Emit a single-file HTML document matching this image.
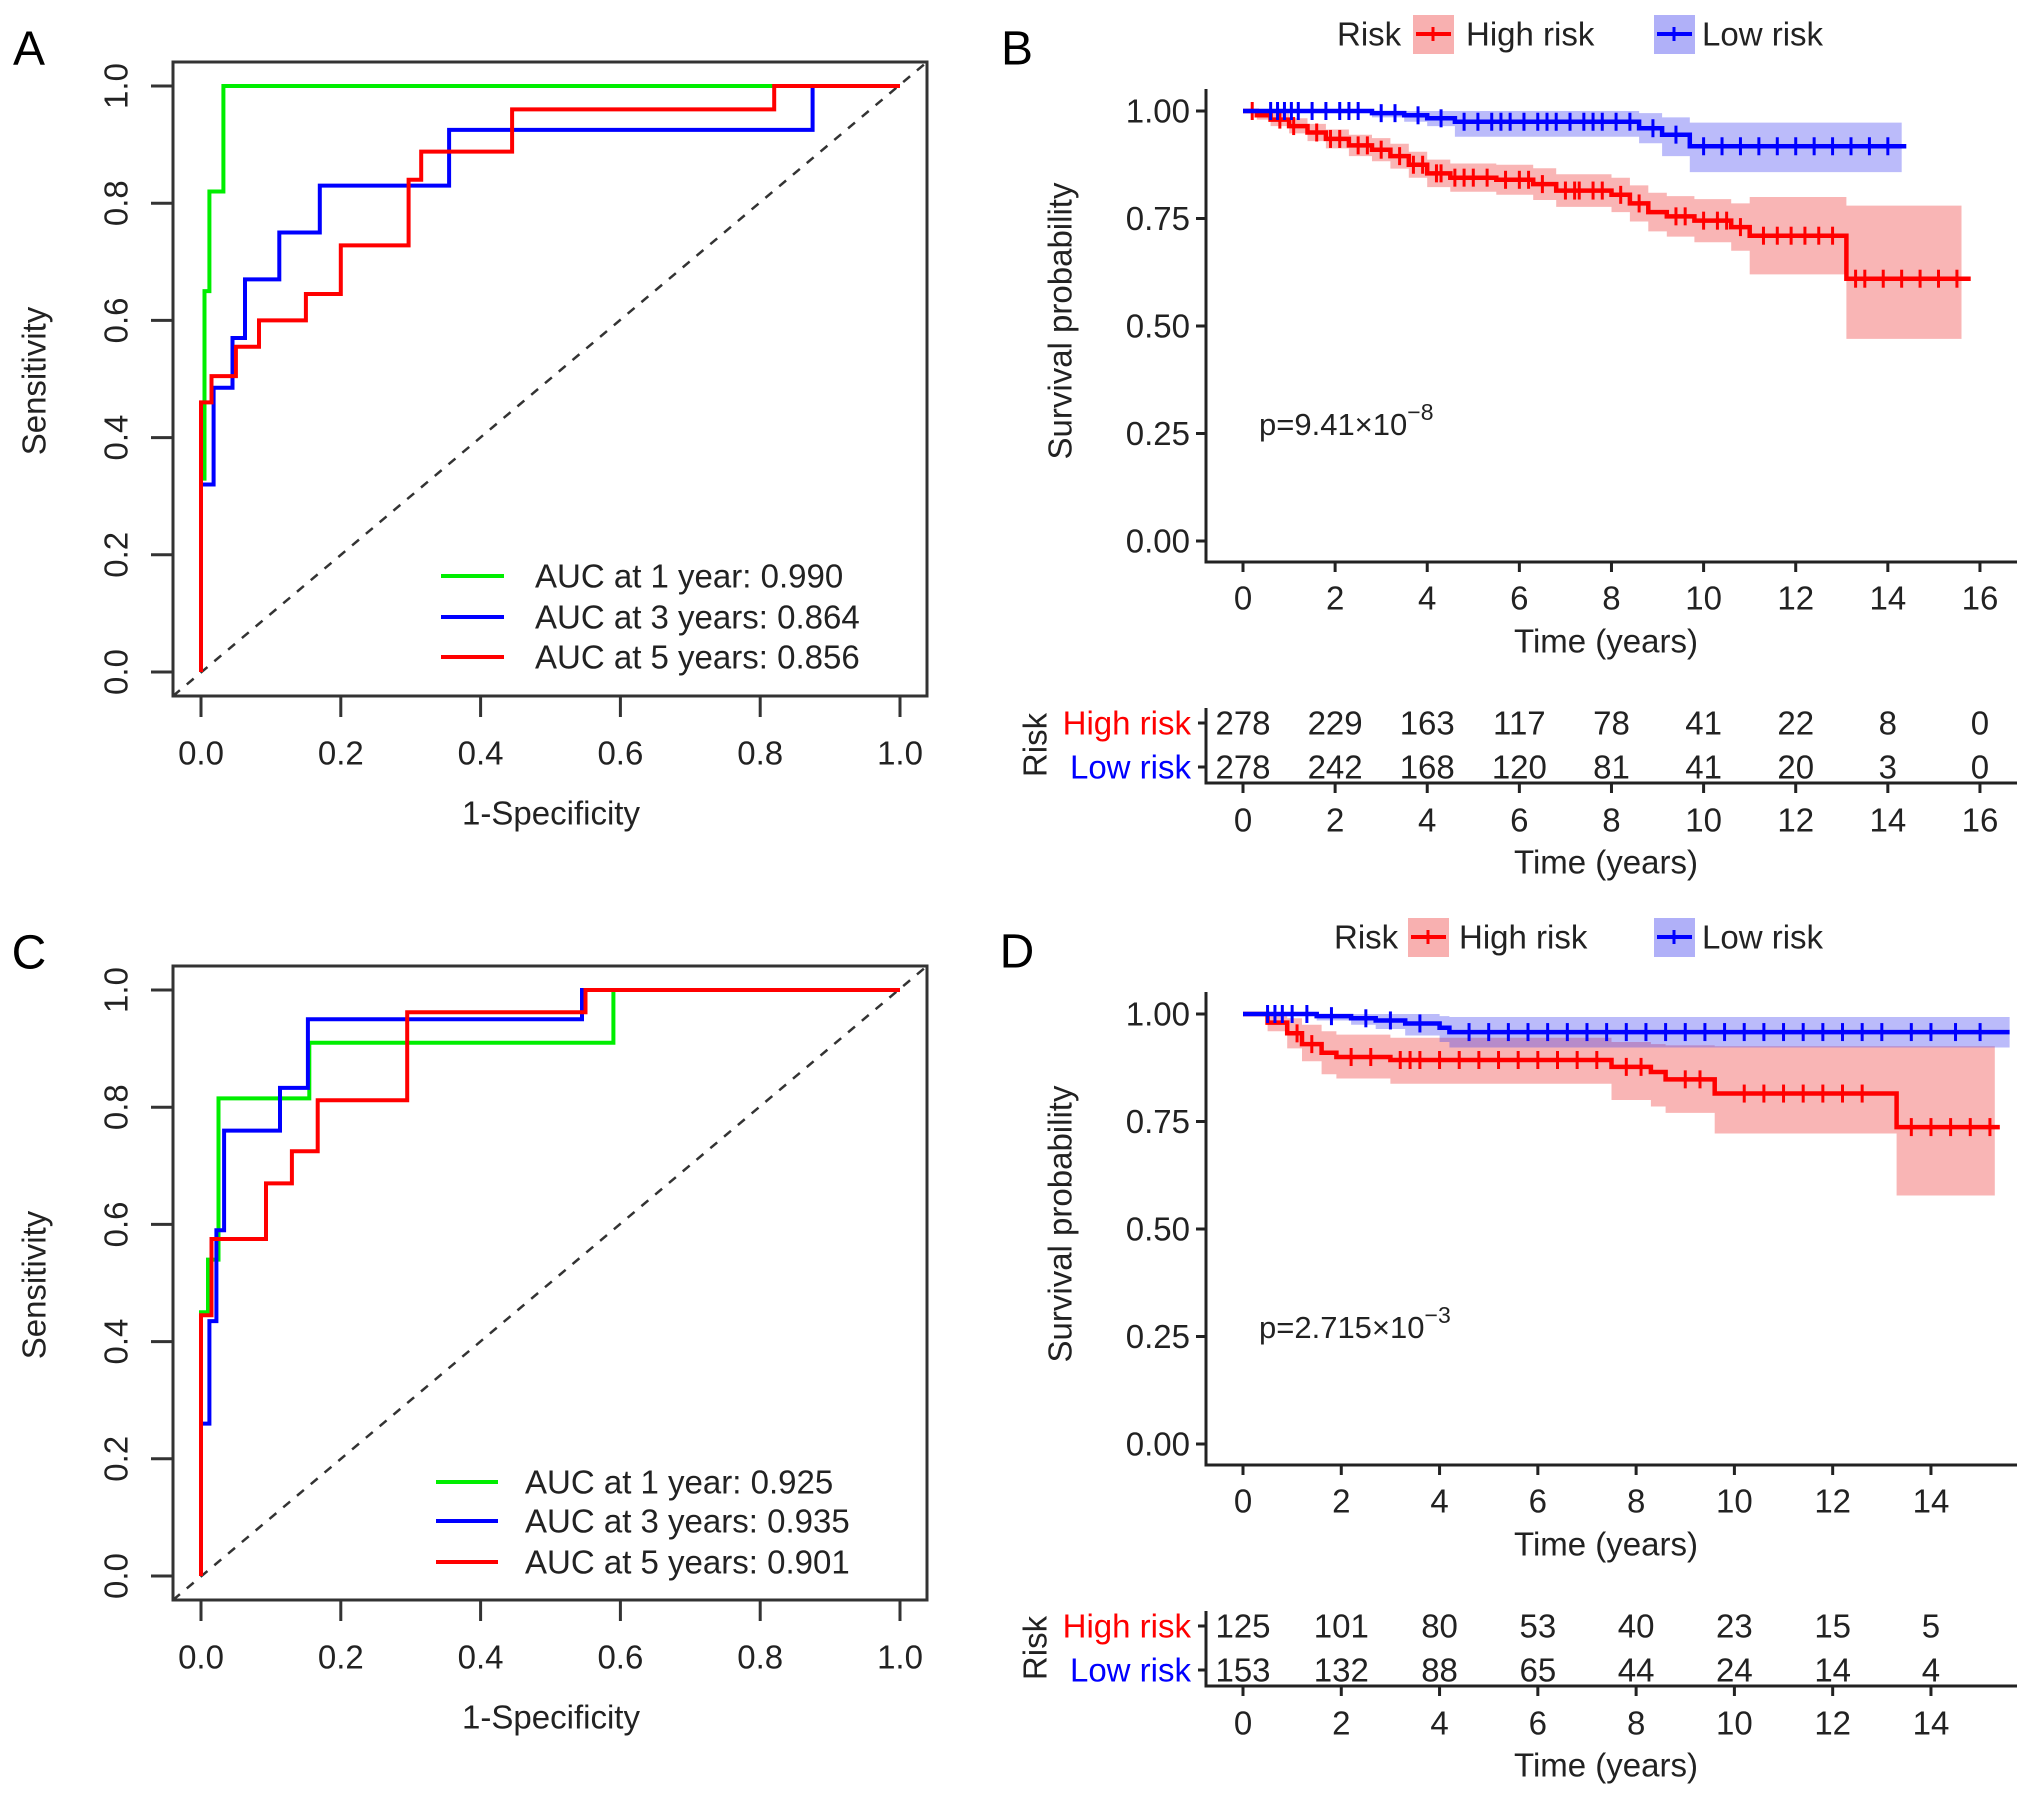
<!DOCTYPE html>
<html><head><meta charset="utf-8"><style>
html,body{margin:0;padding:0;background:#fff}
svg{display:block;font-family:"Liberation Sans",sans-serif}
</style></head><body>
<svg id="fig" width="2032" height="1796" viewBox="0 0 2032 1796" xmlns="http://www.w3.org/2000/svg"></svg>
<script>
// ---------- ROC data ----------
const rocA_green_x=[0,0,0.005,0.005,0.012,0.012,0.032,0.032,1];
const rocA_green_y=[0,0.33,0.33,0.65,0.65,0.82,0.82,1,1];
const rocA_blue_x=[0,0,0.018,0.018,0.045,0.045,0.063,0.063,0.112,0.112,0.17,0.17,0.355,0.355,0.875,0.875,1];
const rocA_blue_y=[0,0.32,0.32,0.485,0.485,0.57,0.57,0.67,0.67,0.75,0.75,0.83,0.83,0.925,0.925,1,1];
const rocA_red_x=[0,0,0.015,0.015,0.05,0.05,0.083,0.083,0.15,0.15,0.2,0.2,0.297,0.297,0.315,0.315,0.445,0.445,0.82,0.82,1];
const rocA_red_y=[0,0.46,0.46,0.505,0.505,0.555,0.555,0.6,0.6,0.645,0.645,0.728,0.728,0.84,0.84,0.888,0.888,0.96,0.96,1,1];
const rocC_green_x=[0,0,0.01,0.01,0.025,0.025,0.155,0.155,0.59,0.59,1];
const rocC_green_y=[0,0.45,0.45,0.54,0.54,0.815,0.815,0.91,0.91,1,1];
const rocC_blue_x=[0,0,0.012,0.012,0.022,0.022,0.033,0.033,0.113,0.113,0.153,0.153,0.545,0.545,1];
const rocC_blue_y=[0,0.26,0.26,0.435,0.435,0.59,0.59,0.76,0.76,0.833,0.833,0.95,0.95,1,1];
const rocC_red_x=[0,0,0.015,0.015,0.093,0.093,0.13,0.13,0.167,0.167,0.295,0.295,0.55,0.55,1];
const rocC_red_y=[0,0.445,0.445,0.575,0.575,0.67,0.67,0.725,0.725,0.812,0.812,0.962,0.962,1,1];
const rocTicks=[0,0.2,0.4,0.6,0.8,1.0];
const rocLegendA=["AUC at 1 year: 0.990","AUC at 3 years: 0.864","AUC at 5 years: 0.856"];
const rocLegendC=["AUC at 1 year: 0.925","AUC at 3 years: 0.935","AUC at 5 years: 0.901"];

// ---------- KM data ----------
const kmB_high_t=[0,0.3,0.6,1.0,1.4,1.8,2.3,2.8,3.2,3.6,4.0,4.5,5.5,6.3,6.8,8.0,8.4,8.8,9.2,9.8,10.6,11.0,13.1];
const kmB_high_s=[1,0.99,0.98,0.965,0.95,0.935,0.92,0.91,0.895,0.875,0.855,0.845,0.84,0.83,0.815,0.805,0.785,0.765,0.755,0.745,0.73,0.71,0.61];
const kmB_high_lo=[1,0.98,0.965,0.948,0.93,0.913,0.895,0.883,0.866,0.845,0.823,0.812,0.805,0.793,0.777,0.765,0.743,0.72,0.708,0.695,0.675,0.62,0.47];
const kmB_high_hi=[1,1,0.995,0.983,0.97,0.957,0.945,0.937,0.924,0.905,0.887,0.878,0.875,0.867,0.853,0.845,0.827,0.81,0.802,0.795,0.785,0.8,0.78];
const kmB_high_end=15.8;
const kmB_high_cens=[0.2,0.8,1.1,1.6,1.9,2.1,2.5,2.7,3.0,3.4,3.7,3.9,4.2,4.3,4.6,4.8,5.0,5.3,5.7,6.0,6.2,6.5,7.0,7.2,7.3,7.6,7.8,8.2,8.6,9.4,9.6,10.0,10.3,10.5,10.8,11.3,11.6,11.9,12.2,12.5,12.8,13.3,13.5,13.9,14.3,14.7,15.1,15.5];
const kmB_low_t=[0,2.8,3.5,4.0,4.6,8.6,9.1,9.7];
const kmB_low_s=[1,0.995,0.99,0.983,0.975,0.96,0.945,0.918];
const kmB_low_lo=[1,0.985,0.975,0.965,0.94,0.925,0.895,0.858];
const kmB_low_hi=[1,1,1,1,1,0.995,0.985,0.973];
const kmB_low_end=14.4;
const kmB_low_cens=[0.6,0.75,0.9,1.05,1.2,1.5,1.8,2.1,2.3,2.5,3.0,3.3,3.8,4.3,4.8,5.1,5.4,5.6,5.8,6.1,6.4,6.6,6.8,7.1,7.4,7.6,7.8,8.1,8.4,8.9,9.4,10.0,10.4,10.8,11.2,11.6,12.0,12.4,12.8,13.2,13.6,14.0];
const kmD_high_t=[0,0.5,0.9,1.2,1.6,1.9,3.0,7.5,8.3,8.6,9.6,13.3];
const kmD_high_s=[1,0.98,0.955,0.93,0.91,0.9,0.893,0.877,0.865,0.848,0.815,0.737];
const kmD_high_lo=[1,0.96,0.92,0.89,0.86,0.85,0.838,0.8,0.785,0.77,0.722,0.578];
const kmD_high_hi=[1,1,0.99,0.975,0.96,0.952,0.945,0.935,0.93,0.927,0.925,0.925];
const kmD_high_end=15.4;
const kmD_high_cens=[1.1,1.4,2.2,2.6,3.2,3.4,3.6,4.0,4.4,4.8,5.2,5.6,6.0,6.4,6.8,7.2,7.8,8.1,9.0,9.3,10.2,10.6,11.0,11.4,11.8,12.2,12.6,13.6,14.0,14.4,14.8,15.2];
const kmD_low_t=[0,1.5,2.2,2.7,3.3,4.0,4.2];
const kmD_low_s=[1,0.995,0.99,0.985,0.978,0.968,0.958];
const kmD_low_lo=[1,0.985,0.975,0.965,0.95,0.935,0.922];
const kmD_low_hi=[1,1,1,1,1,0.995,0.993];
const kmD_low_end=15.6;
const kmD_low_cens=[0.5,0.65,0.8,1.0,1.3,1.8,2.5,3.0,3.6,4.6,5.0,5.4,5.8,6.2,6.6,7.0,7.4,7.8,8.2,8.6,9.0,9.4,9.8,10.2,10.6,11.0,11.4,11.8,12.2,12.6,13.0,13.6,14.0,14.5,15.0];
const kmYTicks=[0,0.25,0.5,0.75,1.0];
const kmYTickLabels=["0.00","0.25","0.50","0.75","1.00"];
const kmB_xticks=[0,2,4,6,8,10,12,14,16];
const kmD_xticks=[0,2,4,6,8,10,12,14];
const tableB_high=[278,229,163,117,78,41,22,8,0];
const tableB_low=[278,242,168,120,81,41,20,3,0];
const tableD_high=[125,101,80,53,40,23,15,5];
const tableD_low=[153,132,88,65,44,24,14,4];

const FS=33;
const NS="http://www.w3.org/2000/svg";
const svg=document.getElementById('fig');
function el(tag,attrs,parent,text){const e=document.createElementNS(NS,tag);for(const k in attrs)e.setAttribute(k,attrs[k]);if(text!==undefined)e.textContent=text;(parent||svg).appendChild(e);return e;}

function rocPanel(oy,letter,series,legend,legX){
  const g=el('g',{});
  
  
  const X=v=>201+699*v, Y=v=>672+oy-586*v;
  const t=el('text',{x:29,y:49+oy,'font-size':48,'text-anchor':'middle','dominant-baseline':'central'},g,letter);
  
  const box=el('rect',{x:173,y:62+oy,width:754,height:634,fill:'none',stroke:'#333','stroke-width':3},g);
  
  rocTicks.forEach(v=>{
    el('line',{x1:X(v),x2:X(v),y1:696+oy,y2:717+oy,stroke:'#333','stroke-width':3},g);
    const tx=el('text',{x:X(v),y:753+oy,'font-size':FS,'text-anchor':'middle','dominant-baseline':'central',fill:'#222'},g,v.toFixed(1));
    
    el('line',{x1:151,x2:173,y1:Y(v),y2:Y(v),stroke:'#333','stroke-width':3},g);
    const ty=el('text',{x:116,y:Y(v),'font-size':FS,'text-anchor':'middle','dominant-baseline':'central',fill:'#222',transform:`rotate(-90 116 ${Y(v)})`},g,v.toFixed(1));
    
  });
  const xt=el('text',{x:551,y:813+oy,'font-size':FS,'text-anchor':'middle','dominant-baseline':'central',fill:'#222'},g,'1-Specificity');
  
  const yt=el('text',{x:34,y:381+oy,'font-size':FS,'text-anchor':'middle','dominant-baseline':'central',fill:'#222',transform:`rotate(-90 34 ${381+oy})`},g,'Sensitivity');
  
  const dg=el('line',{x1:173,y1:696+oy,x2:927,y2:62+oy,stroke:'#333','stroke-width':2.5,'stroke-dasharray':'9,9'},g);
  
  const cols=['#00ee00','#0000ff','#ff0000'];
  series.forEach((s,i)=>{
    const d=s[0].map((x,j)=>(j?'L':'M')+X(x).toFixed(1)+','+Y(s[1][j]).toFixed(1)).join(' ');
    const p=el('path',{d:d,fill:'none',stroke:cols[i],'stroke-width':4},g);
    
  });
  legend.forEach((txt,i)=>{
    const ly=legX.rows[i]+oy;
    el('line',{x1:legX.l1,x2:legX.l2,y1:ly,y2:ly,stroke:cols[i],'stroke-width':4},g);
    const lt=el('text',{x:legX.tx,y:ly,'font-size':FS,'dominant-baseline':'central',fill:'#222'},g,txt);
    
  });
}
rocPanel(0,'A',[[rocA_green_x,rocA_green_y],[rocA_blue_x,rocA_blue_y],[rocA_red_x,rocA_red_y]],rocLegendA,{l1:441,l2:504,tx:535,rows:[576,617,657]});
rocPanel(904,'C',[[rocC_green_x,rocC_green_y],[rocC_blue_x,rocC_blue_y],[rocC_red_x,rocC_red_y]],rocLegendC,{l1:436,l2:498,tx:525,rows:[578,617,658]});

function stepPath(X,Y,t,s,end){let d='M'+X(t[0])+','+Y(s[0]);for(let i=1;i<t.length;i++){d+=' H'+X(t[i]).toFixed(1)+' V'+Y(s[i]).toFixed(1);}d+=' H'+X(end).toFixed(1);return d;}
function bandPath(X,Y,t,lo,hi,end){let d='M'+X(t[0])+','+Y(hi[0]);for(let i=1;i<t.length;i++){d+=' H'+X(t[i]).toFixed(1)+' V'+Y(hi[i]).toFixed(1);}d+=' H'+X(end).toFixed(1)+' V'+Y(lo[lo.length-1]).toFixed(1);for(let i=t.length-1;i>=1;i--){d+=' H'+X(t[i]).toFixed(1)+' V'+Y(lo[i-1]).toFixed(1);}d+=' H'+X(t[0])+' Z';return d;}
function survAt(t,s,x){let v=s[0];for(let i=0;i<t.length;i++){if(t[i]<=x)v=s[i];}return v;}

function kmPanel(letter,cfg){
  const oy=cfg.oy;
  const g=el('g',{});
  
  
  const X=v=>1243+cfg.pu*v, Y=v=>541+oy-430*v;
  const lt=el('text',{x:1017,y:49+oy,'font-size':48,'text-anchor':'middle','dominant-baseline':'central'},g,letter);
  
  const lg=el('g',{},g);
  el('text',{x:cfg.leg.risk,y:34+oy,'font-size':FS,'dominant-baseline':'central',fill:'#222'},lg,'Risk');
  [['#f8b0b0','#ff0000',cfg.leg.rb,cfg.leg.ht,'High risk'],['#b0b0f8','#0000ff',1654,1702,'Low risk']].forEach(k=>{
    const kb=el('rect',{x:k[2],y:15+oy,width:41,height:39,fill:k[0]},lg);
    
    el('line',{x1:k[2]+3,x2:k[2]+38,y1:34+oy,y2:34+oy,stroke:k[1],'stroke-width':4},lg);
    el('line',{x1:k[2]+20,x2:k[2]+20,y1:27+oy,y2:41+oy,stroke:k[1],'stroke-width':3},lg);
    el('text',{x:k[3],y:34+oy,'font-size':FS,'dominant-baseline':'central',fill:'#222'},lg,k[4]);
  });
  const bh=el('path',{d:bandPath(X,Y,cfg.high.t,cfg.high.lo,cfg.high.hi,cfg.high.bandEnd),fill:'rgba(240,60,60,0.38)'},g);
  
  const bl=el('path',{d:bandPath(X,Y,cfg.low.t,cfg.low.lo,cfg.low.hi,cfg.low.bandEnd),fill:'rgba(60,60,240,0.35)'},g);
  
  [['high','#ff0000'],['low','#0000ff']].forEach(([k,c])=>{
    const s=cfg[k];
    const p=el('path',{d:stepPath(X,Y,s.t,s.s,s.end),fill:'none',stroke:c,'stroke-width':4.5},g);
    
    s.c.forEach(ct=>{
      const yy=Y(survAt(s.t,s.s,ct));
      const m=el('line',{x1:X(ct),x2:X(ct),y1:yy-9,y2:yy+9,stroke:c,'stroke-width':3},g);
      
    });
  });
  const ax=el('path',{d:`M1206,${89+oy} V${562+oy} H2017`,fill:'none',stroke:'#222','stroke-width':3},g);
  
  kmYTicks.forEach((v,i)=>{
    el('line',{x1:1196,x2:1206,y1:Y(v),y2:Y(v),stroke:'#222','stroke-width':3},g);
    const t=el('text',{x:1190,y:Y(v),'font-size':FS,'text-anchor':'end','dominant-baseline':'central',fill:'#222'},g,kmYTickLabels[i]);
    
  });
  cfg.xt.forEach(v=>{
    el('line',{x1:X(v),x2:X(v),y1:562+oy,y2:572+oy,stroke:'#222','stroke-width':3},g);
    const t=el('text',{x:X(v),y:598+oy,'font-size':FS,'text-anchor':'middle','dominant-baseline':'central',fill:'#222'},g,String(v));
    
    el('line',{x1:X(v),x2:X(v),y1:783+oy,y2:793+oy,stroke:'#222','stroke-width':3},g);
    const t2=el('text',{x:X(v),y:820+oy,'font-size':FS,'text-anchor':'middle','dominant-baseline':'central',fill:'#222'},g,String(v));
    
  });
  const xt=el('text',{x:1606,y:641+oy,'font-size':FS,'text-anchor':'middle','dominant-baseline':'central',fill:'#222'},g,'Time (years)');
  
  const yt=el('text',{x:1060,y:cfg.yl+oy,'font-size':FS,'text-anchor':'middle','dominant-baseline':'central',fill:'#222',transform:`rotate(-90 1060 ${cfg.yl+oy})`},g,'Survival probability');
  
  const pv=el('text',{x:1259,y:424+oy,'font-size':31,'dominant-baseline':'central',fill:'#222'},g);
  
  el('tspan',{},pv,cfg.p);el('tspan',{dy:-12,'font-size':23},pv,cfg.pe);
  const tg=el('g',{},g);
  el('path',{d:`M1206,${708+oy} V${783+oy} H2017`,fill:'none',stroke:'#222','stroke-width':3},tg);
  [[723,'High risk','#ff0000',cfg.th],[767,'Low risk','#0000ff',cfg.tl]].forEach(r=>{
    el('line',{x1:1198,x2:1206,y1:r[0]+oy,y2:r[0]+oy,stroke:'#222','stroke-width':3},tg);
    const lab=el('text',{x:1191,y:r[0]+oy,'font-size':FS,'text-anchor':'end','dominant-baseline':'central',fill:r[2]},tg,r[1]);
    
    r[3].forEach((n,i)=>{
      const c=el('text',{x:X(cfg.xt[i]),y:r[0]+oy,'font-size':FS,'text-anchor':'middle','dominant-baseline':'central',fill:'#222'},tg,String(n));
      
    });
  });
  el('text',{x:1035,y:745+oy,'font-size':FS,'text-anchor':'middle','dominant-baseline':'central',fill:'#222',transform:`rotate(-90 1035 ${745+oy})`},tg,'Risk');
  const tt=el('text',{x:1606,y:862+oy,'font-size':FS,'text-anchor':'middle','dominant-baseline':'central',fill:'#222'},tg,'Time (years)');
  
}
kmPanel('B',{oy:0,pu:46.06,yl:321,p:'p=9.41×10',pe:'−8',xt:kmB_xticks,th:tableB_high,tl:tableB_low,
  leg:{risk:1337,rb:1413,ht:1466},
  high:{t:kmB_high_t,s:kmB_high_s,lo:kmB_high_lo,hi:kmB_high_hi,end:kmB_high_end,bandEnd:15.6,c:kmB_high_cens},
  low:{t:kmB_low_t,s:kmB_low_s,lo:kmB_low_lo,hi:kmB_low_hi,end:kmB_low_end,bandEnd:14.3,c:kmB_low_cens}});
kmPanel('D',{oy:903,pu:49.14,yl:321,p:'p=2.715×10',pe:'−3',xt:kmD_xticks,th:tableD_high,tl:tableD_low,
  leg:{risk:1334,rb:1408,ht:1459},
  high:{t:kmD_high_t,s:kmD_high_s,lo:kmD_high_lo,hi:kmD_high_hi,end:kmD_high_end,bandEnd:15.3,c:kmD_high_cens},
  low:{t:kmD_low_t,s:kmD_low_s,lo:kmD_low_lo,hi:kmD_low_hi,end:kmD_low_end,bandEnd:15.6,c:kmD_low_cens}});
</script>
</body></html>
